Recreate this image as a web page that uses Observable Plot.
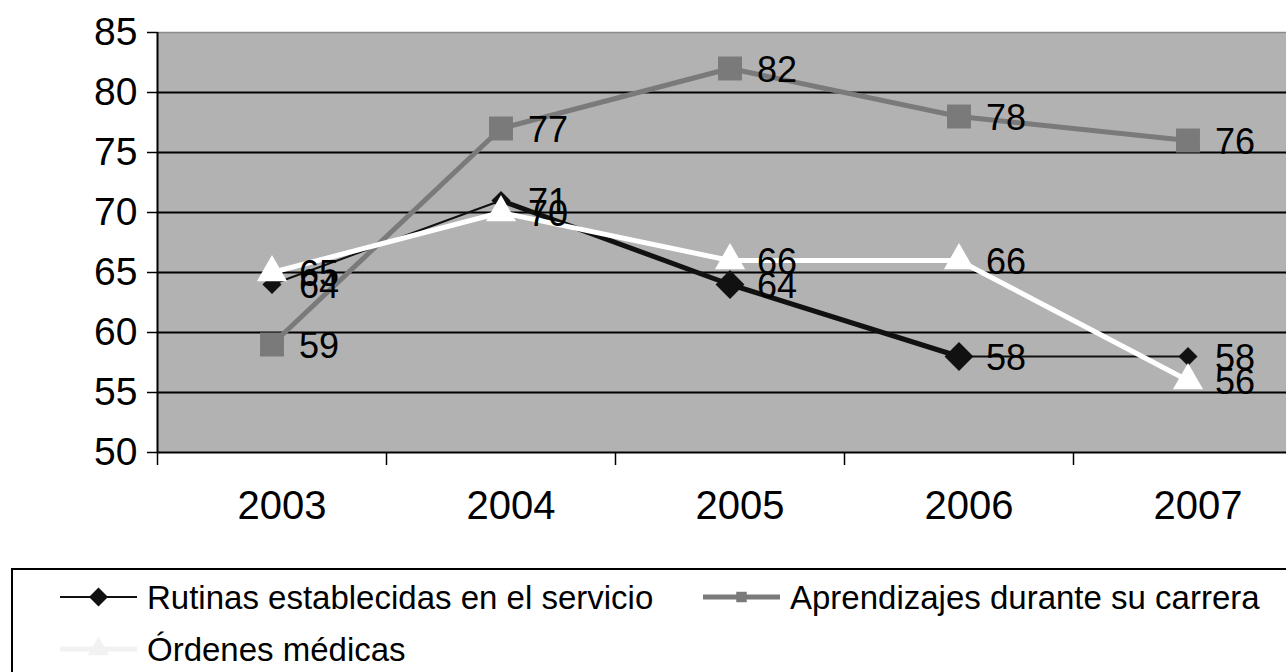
<!DOCTYPE html>
<html>
<head>
<meta charset="utf-8">
<script src="https://cdn.jsdelivr.net/npm/d3@7"></script>
<script src="https://cdn.jsdelivr.net/npm/@observablehq/plot@0.6"></script>
<style>
  html, body { margin: 0; padding: 0; background: #fff; overflow: hidden; }
  #wrap { position: relative; width: 1286px; height: 672px; overflow: hidden; }
  #chart svg { max-width: none !important; display: block; }
  #legend { position: absolute; left: 0; top: 0; }
</style>
</head>
<body>
<div id="wrap">
  <div id="chart"></div>
  <svg id="legend" width="1286" height="672"></svg>
</div>
<script>
// ---- data ----
const years = [2003, 2004, 2005, 2006, 2007];
const rutinas = [64, 71, 64, 58, 58];
const aprendizajes = [59, 77, 82, 78, 76];
const ordenes = [65, 70, 66, 66, 56];
const yTicks = [50, 55, 60, 65, 70, 75, 80, 85];
const seriesNames = [
  "Rutinas establecidas en el servicio",
  "Aprendizajes durante su carrera",
  "Órdenes médicas"
];

// ---- derived tables ----
const rows = (vals) => years.map((year, i) => ({year, value: vals[i]}));
const rutRows = rows(rutinas);
const aprRows = rows(aprendizajes);
const ordRows = rows(ordenes);
const rutSegs = d3.pairs(rutRows);
const yearBounds = d3.range(years.length).map(i => years[i] - 0.5);

// ---- styles ----
const FONT = "Liberation Sans, Arial, sans-serif";
const BG = "#b2b2b2";
const GRAY = "#7a7a7a";
const rutSegWidth = [2, 5, 5, 2];
const rutBig = [false, false, true, true, false];

const chart = Plot.plot({
  width: 1302,
  height: 560,
  marginLeft: 157,
  marginRight: 0,
  marginTop: 32,
  marginBottom: 108,
  style: {fontFamily: FONT, background: "white", color: "black"},
  x: {type: "linear", domain: [years[0] - 0.5, years[years.length - 1] + 0.5]},
  y: {domain: [yTicks[0], yTicks[yTicks.length - 1]]},
  marks: [
    Plot.frame({fill: BG}),
    Plot.ruleY(yTicks.slice(1, -1), {stroke: "black", strokeWidth: 2}),
    Plot.ruleY([yTicks[yTicks.length - 1]], {stroke: "#8a8a8a", strokeWidth: 1.5}),
    Plot.ruleY([yTicks[0]], {stroke: "black", strokeWidth: 2}),
    Plot.ruleX([years[0] - 0.5], {stroke: "black", strokeWidth: 2}),
    Plot.axisY({ticks: yTicks, tickSize: 10, tickPadding: 10, fontSize: 39,
      stroke: "black", strokeWidth: 1.5, tickFormat: d => String(d), label: null}),
    Plot.axisX({ticks: yearBounds, tickSize: 13, stroke: "black", strokeWidth: 1.5,
      tickFormat: () => "", label: null}),
    Plot.axisX({ticks: years, tickSize: 0, tickPadding: 38, dx: 10, fontSize: 40,
      tickFormat: d => String(d), label: null}),
    // Rutinas
    Plot.link(rutSegs, {
      x1: p => p[0].year, y1: p => p[0].value,
      x2: p => p[1].year, y2: p => p[1].value,
      stroke: "#111", strokeWidth: (p, i) => rutSegWidth[i], strokeLinecap: "round"
    }),
    Plot.dot(rutRows, {x: "year", y: "value", symbol: "diamond2", r: 8.6, fill: "#111",
      filter: (d, i) => !rutBig[i]}),
    Plot.dot(rutRows, {x: "year", y: "value", symbol: "diamond2", r: 13, fill: "#111",
      filter: (d, i) => rutBig[i]}),
    // Aprendizajes
    Plot.line(aprRows, {x: "year", y: "value", stroke: GRAY, strokeWidth: 5}),
    Plot.dot(aprRows, {x: "year", y: "value", symbol: "square", r: 13.5, fill: GRAY}),
    // Órdenes
    Plot.line(ordRows, {x: "year", y: "value", stroke: "white", strokeWidth: 5}),
    Plot.dot(ordRows, {x: "year", y: "value", symbol: "triangle", r: 11.2, fill: "white"}),
    // labels
    ...[rutRows, aprRows, ordRows].map(rs =>
      Plot.text(rs, {x: "year", y: "value", text: d => String(d.value), textAnchor: "start",
        dx: 27, dy: 2, fontSize: 36, fill: "black"}))
  ]
});
document.getElementById("chart").appendChild(chart);

// ---- legend ----
const lg = d3.select("#legend").style("font-family", FONT);
lg.append("rect").attr("x", 12).attr("y", 569).attr("width", 1400).attr("height", 200)
  .attr("fill", "none").attr("stroke", "black").attr("stroke-width", 2);
const legendItems = [
  {name: seriesNames[0], x: 60, y: 597, stroke: "#111", sw: 2, sym: d3.symbolDiamond2, size: 230, fill: "#111"},
  {name: seriesNames[1], x: 703, y: 597, stroke: GRAY, sw: 5, sym: d3.symbolSquare, size: 110, fill: GRAY},
  {name: seriesNames[2], x: 60, y: 649, stroke: "#f2f2f2", sw: 5, sym: d3.symbolTriangle, size: 200, fill: "#f2f2f2"}
];
for (const it of legendItems) {
  const g = lg.append("g");
  g.append("line").attr("x1", it.x).attr("x2", it.x + 77).attr("y1", it.y).attr("y2", it.y)
    .attr("stroke", it.stroke).attr("stroke-width", it.sw);
  g.append("path").attr("d", d3.symbol(it.sym, it.size)())
    .attr("transform", `translate(${it.x + 38.5},${it.y})`).attr("fill", it.fill);
  g.append("text").attr("x", it.x + 87).attr("y", it.y).attr("dy", "0.35em")
    .attr("font-size", 33).attr("fill", "black").text(it.name);
}
</script>
</body>
</html>
